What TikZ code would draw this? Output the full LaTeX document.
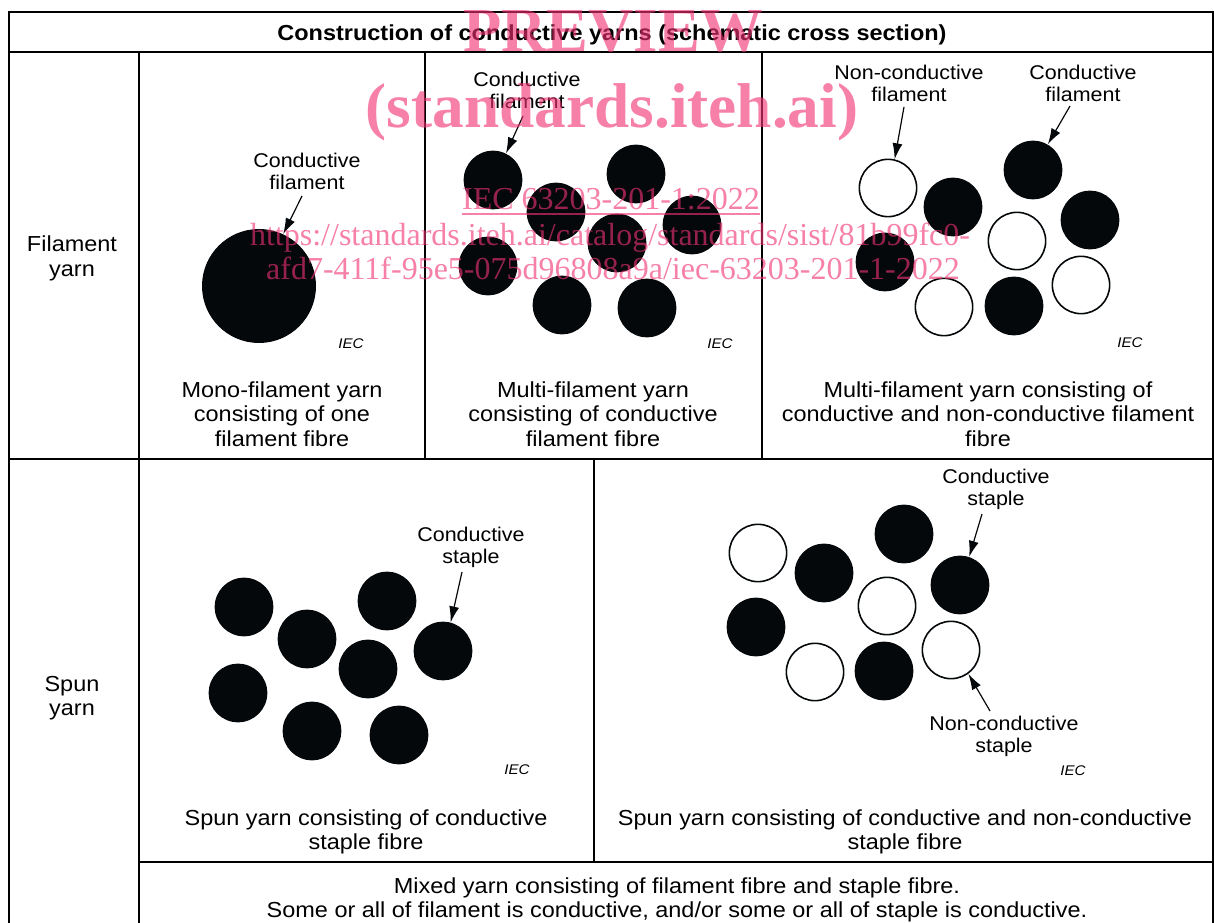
\documentclass[tikz,border=0pt]{standalone}
\usepackage{fontspec}
\setmainfont{Liberation Sans}[FakeStretch=1.08]
\newfontfamily\wmfont{Liberation Serif}
\usetikzlibrary{arrows.meta,calc}
\definecolor{wm}{RGB}{240,50,115}
\definecolor{ink}{RGB}{5,8,10}
\begin{document}
\begin{tikzpicture}[x=0.75pt,y=-0.75pt,
  tframe/.style={line width=1.5pt,black},
  captxt/.style={font=\fontsize{16.3}{18.4}\selectfont,align=center,inner sep=0pt,yshift=-1.1pt},
  lbltxt/.style={font=\fontsize{14.9}{16.5}\selectfont,align=center,inner sep=0pt,yshift=-0.6pt},
  iectxt/.style={font=\fontsize{10.5}{12}\selectfont\itshape,inner sep=0pt,yshift=-0.75pt},
  blk/.style={circle,fill=ink,inner sep=0pt,minimum size=44pt},
  wht/.style={circle,draw=ink,line width=1.2pt,fill=white,inner sep=0pt,minimum size=43pt},
  arr/.style={-{Latex[length=12pt,width=7.5pt]},line width=0.9pt,ink},
  wmtxt/.style={text=wm,text opacity=0.62,inner sep=0pt,anchor=base}]
\useasboundingbox (0,0) rectangle (1214,923);
% ---- table frame ----
\draw[tframe] (9,923) -- (9,12) -- (1212.5,12) -- (1212.5,923);
\draw[tframe] (9,52) -- (1212.5,52);
\draw[tframe] (9,459) -- (1212.5,459);
\draw[tframe] (139,52) -- (139,923);
\draw[tframe] (425,52) -- (425,459);
\draw[tframe] (762,52) -- (762,459);
\draw[tframe] (594,459) -- (594,862);
\draw[tframe] (139,862) -- (1212.5,862);
% ---- headings ----
\node[captxt,font=\fontsize{16.3}{18.4}\selectfont\bfseries,yshift=-1pt] (title) at (612,32) {Construction of conductive yarns (schematic cross section)};
\node[captxt,yshift=-1pt] (rowA) at (72,255.5) {Filament\\yarn};
\node[captxt,yshift=-1pt] (rowB) at (72,695.5) {Spun\\yarn};
% ---- panel 1: mono-filament ----
\node[circle,fill=ink,inner sep=0pt,minimum size=85.5pt] (m1) at (259,286) {};
\node[lbltxt] (l1) at (307,171) {Conductive\\filament};
\coordinate (s1) at (302,196);
\draw[arr] (s1) -- (m1.65);
\node[iectxt] (iec1) at (351,343) {IEC};
\node[captxt] (c1) at (282,412.5) {Mono-filament yarn\\consisting of one\\filament fibre};
% ---- panel 2: multi-filament ----
\node[blk] (p1) at (493,180) {};
\node[blk] (p2) at (636,174) {};
\node[blk] (p3) at (556,212) {};
\node[blk] (p4) at (692,225) {};
\node[blk] (p5) at (617,243) {};
\node[blk] (p6) at (488,266) {};
\node[blk] (p7) at (562,305) {};
\node[blk] (p8) at (647,308) {};
\node[lbltxt] (l2) at (527,89.5) {Conductive\\filament};
\coordinate (s2) at (523,116);
\draw[arr] (s2) -- (p1.64);
\node[iectxt] (iec2) at (720,343) {IEC};
\node[captxt] (c2) at (593,412.5) {Multi-filament yarn\\consisting of conductive\\filament fibre};
% ---- panel 3: mixed filament ----
\node[wht] (q1) at (888,188) {};
\node[blk] (q2) at (953,207) {};
\node[blk] (q3) at (1033,170) {};
\node[wht] (q4) at (1017,241) {};
\node[blk] (q5) at (1090,220) {};
\node[blk] (q6) at (885,262) {};
\node[wht] (q7) at (944,307) {};
\node[blk] (q8) at (1014,306) {};
\node[wht] (q9) at (1081,285) {};
\node[lbltxt] (l3) at (909,83) {Non-conductive\\filament};
\node[lbltxt] (l4) at (1083,83) {Conductive\\filament};
\coordinate (s3) at (904,107);
\coordinate (s4) at (1070,106);
\draw[arr] (s3) -- (q1.77);
\draw[arr] (s4) -- (q3.60);
\node[iectxt] (iec3) at (1130,342) {IEC};
\node[captxt] (c3) at (988,412.5) {Multi-filament yarn consisting of\\conductive and non-conductive filament\\fibre};
% ---- spun panel A ----
\node[blk] (r1) at (244,607) {};
\node[blk] (r2) at (307,639) {};
\node[blk] (r3) at (387,601) {};
\node[blk] (r4) at (443,651) {};
\node[blk] (r5) at (368,669) {};
\node[blk] (r6) at (238,693) {};
\node[blk] (r7) at (312,731) {};
\node[blk] (r8) at (399,735) {};
\node[lbltxt] (l5) at (471,546.5) {Conductive\\staple};
\coordinate (s5) at (462,572);
\draw[arr] (s5) -- (r4.75);
\node[iectxt] (iec4) at (517,769) {IEC};
\node[captxt] (c4) at (366,830.5) {Spun yarn consisting of conductive\\staple fibre};
% ---- spun panel B ----
\node[wht] (t1) at (758,553) {};
\node[blk] (t2) at (824,573) {};
\node[blk] (t3) at (904,534) {};
\node[wht] (t4) at (887,606) {};
\node[blk] (t5) at (960,585) {};
\node[blk] (t6) at (756,627) {};
\node[wht] (t7) at (815,672) {};
\node[blk] (t8) at (884,671) {};
\node[wht] (t9) at (951,650) {};
\node[lbltxt] (l6) at (996,488.5) {Conductive\\staple};
\node[lbltxt] (l7) at (1004,735.5) {Non-conductive\\staple};
\coordinate (s6) at (982,514);
\coordinate (s7) at (990,711);
\draw[arr] (s6) -- (t5.72);
\draw[arr] (s7) -- (t9.-54);
\node[iectxt] (iec5) at (1073,770) {IEC};
\node[captxt] (c5) at (905,830.5) {Spun yarn consisting of conductive and non-conductive\\staple fibre};
% ---- mixed yarn ----
\node[captxt] (c6) at (677,898.5) {Mixed yarn consisting of filament fibre and staple fibre.\\Some or all of filament is conductive, and/or some or all of staple is conductive.};
% ---- watermark ----
\node[wmtxt,font=\wmfont\fontsize{47}{47}\selectfont\bfseries] (w1) at (613,52) {PREVIEW};
\node[wmtxt,font=\wmfont\fontsize{47.5}{47.5}\selectfont\bfseries] (w2) at (612,128) {(standards.iteh.ai)};
\node[wmtxt,font=\wmfont\fontsize{24}{24}\selectfont] (w3) at (611,210) {IEC 63203-201-1:2022};
\draw[wm,opacity=0.62,line width=1.2pt] ($(w3.base west)+(0,4)$) -- ($(w3.base east)+(0,4)$);
\node[wmtxt,font=\wmfont\fontsize{24}{24}\selectfont] (w4) at (610,246) {https://standards.iteh.ai/catalog/standards/sist/81b99fc0-};
\node[wmtxt,font=\wmfont\fontsize{24}{24}\selectfont] (w5) at (613,280) {afd7-411f-95e5-075d96808a9a/iec-63203-201-1-2022};
\end{tikzpicture}
\end{document}
